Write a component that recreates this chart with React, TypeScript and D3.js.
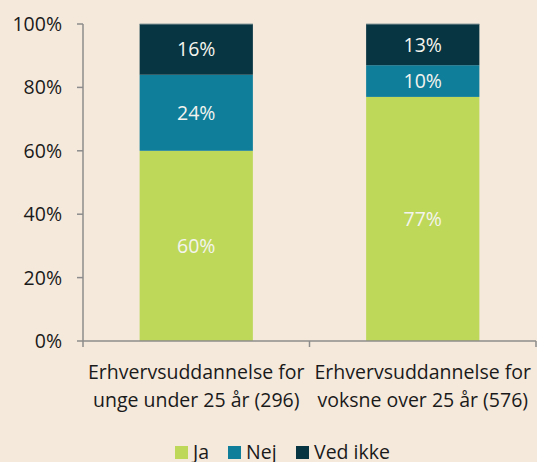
import React from "react";
import * as d3 from "d3";

const categories = ["Erhvervsuddannelse for\nunge under 25 år (296)", "Erhvervsuddannelse for\nvoksne over 25 år (576)"];
const seriesNames = ["Ja", "Nej", "Ved ikke"];
const ja = [60, 77];
const nej = [24, 10];
const vedIkke = [16, 13];
const yTicks = [0, 20, 40, 60, 80, 100];
const colors = ["#BED85A", "#0F7E9B", "#073542"];

const W = 537, H = 462;
const FONT = "'Open Sans', 'Noto Sans', sans-serif";
const FS = 19.5;

export default function App() {
  const x = d3.scaleBand<number>().domain([0, 1]).range([83, 536]).paddingInner(0).paddingOuter(0);
  const y = d3.scaleLinear().domain([0, 100]).range([341, 24]);
  const series = [ja, nej, vedIkke];
  const bw = x.bandwidth() * 0.5;
  const rows = categories.map((c, i) => ({ i, Ja: ja[i], Nej: nej[i], "Ved ikke": vedIkke[i] }));
  const stack = d3.stack<any>().keys(seriesNames)(rows);

  const legendItems = [
    { name: "Ja", x: 175 },
    { name: "Nej", x: 228 },
    { name: "Ved ikke", x: 296 },
  ];

  return (
    <svg width={W} height={H} style={{ position: "absolute", left: 0, top: 0, background: "#F5E9DC" }} fontFamily={FONT}>
      <rect x={0} y={0} width={W} height={H} fill="#F5E9DC" />
      {stack.map((s, si) =>
        s.map((d, ci) => {
          const cx = (x(ci) as number) + x.bandwidth() / 2;
          const y0 = y(d[0]);
          const y1 = y(d[1]);
          const v = series[si][ci];
          return (
            <g key={`${si}-${ci}`}>
              <rect x={cx - bw / 2} y={y1} width={bw} height={y0 - y1} fill={colors[si]} />
              <text x={cx} y={(y0 + y1) / 2} dy="0.36em" textAnchor="middle" fontSize={FS} fill="#F4F4EE">
                {v}%
              </text>
            </g>
          );
        })
      )}
      {categories.map((c, ci) => {
        const cx = (x(ci) as number) + x.bandwidth() / 2;
        return <line key={ci} x1={cx - bw / 2} x2={cx + bw / 2} y1={y(100)} y2={y(100)} stroke="#8a9a9c" strokeWidth={1} />;
      })}
      <line x1={83} x2={83} y1={y(100)} y2={y(0)} stroke="#8C8C8C" strokeWidth={1.5} />
      {yTicks.map((t) => (
        <g key={t}>
          <line x1={77} x2={83} y1={y(t)} y2={y(t)} stroke="#8C8C8C" strokeWidth={1.5} />
          <text x={62} y={y(t)} dy="0.36em" textAnchor="end" fontSize={FS} fill="#1a1a1a">
            {t}%
          </text>
        </g>
      ))}
      <line x1={83} x2={536} y1={y(0)} y2={y(0)} stroke="#8C8C8C" strokeWidth={1.5} />
      {[0, 1, 2].map((k) => {
        const xx = 83 + k * x.bandwidth();
        return <line key={k} x1={xx} x2={xx} y1={y(0)} y2={y(0) + 6} stroke="#8C8C8C" strokeWidth={1.5} />;
      })}
      {categories.map((c, ci) => {
        const cx = (x(ci) as number) + x.bandwidth() / 2;
        return (
          <text key={ci} x={cx} textAnchor="middle" fontSize={FS} fill="#1a1a1a">
            {c.split("\n").map((ln, li) => (
              <tspan key={li} x={cx} y={372 + li * 28} dy="0.36em">
                {ln}
              </tspan>
            ))}
          </text>
        );
      })}
      {legendItems.map((l, i) => (
        <g key={l.name}>
          <rect x={l.x} y={446} width={13} height={13} fill={colors[i]} />
          <text x={l.x + 18} y={452} dy="0.36em" fontSize={FS} fill="#1a1a1a">
            {l.name}
          </text>
        </g>
      ))}
    </svg>
  );
}
